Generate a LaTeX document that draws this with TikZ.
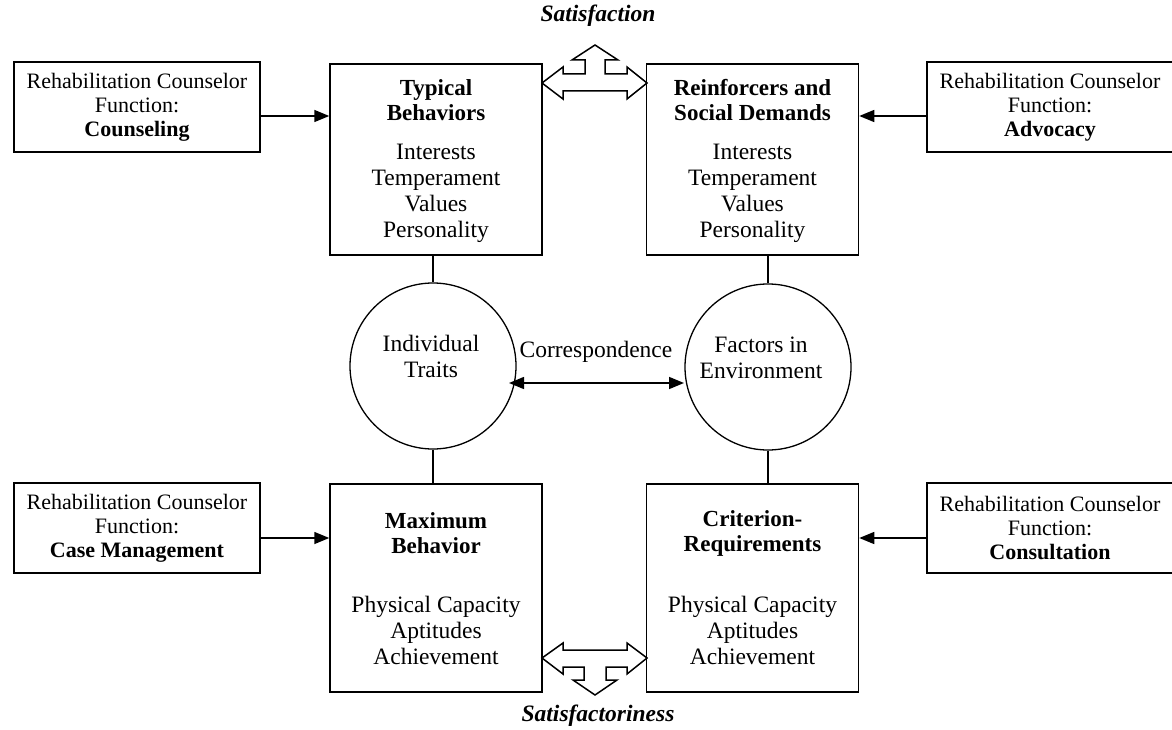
\documentclass[tikz,border=0pt]{standalone}
\usepackage{fontspec}
\setmainfont{Liberation Serif}
\usetikzlibrary{arrows.meta}
\begin{document}
\begin{tikzpicture}[x=1pt,y=-1pt,
  fbox/.style={draw,line width=1.3pt,minimum width=246pt,minimum height=90pt,inner sep=0pt,align=center,font=\fontsize{22}{24}\selectfont},
  mbox/.style={draw,line width=1.5pt,minimum width=212pt,inner sep=0pt},
  ttl/.style={align=center,font=\fontsize{23}{25}\selectfont\bfseries},
  body/.style={align=center,font=\fontsize{23.5}{26}\selectfont},
  circ/.style={draw,circle,line width=1.3pt,minimum size=166pt,inner sep=0pt},
  arr/.style={line width=1.5pt,-{Triangle[length=15pt,width=12pt]}},
  dbl/.style={line width=1.5pt,{Triangle[length=15pt,width=12pt]}-{Triangle[length=15pt,width=12pt]}},
  lnk/.style={line width=1.3pt},
  blk/.style={line width=1.5pt,line join=miter,fill=white},
  lab/.style={font=\fontsize{23.5}{24}\selectfont\bfseries\itshape}
]
\useasboundingbox (0,0) rectangle (1172,730);

% function boxes
\node[fbox] (cf) at (137,107) {Rehabilitation Counselor\\Function:\\\textbf{Counseling}};
\node[fbox] (af) at (1050,107) {Rehabilitation Counselor\\Function:\\\textbf{Advocacy}};
\node[fbox] (mf) at (137,528) {Rehabilitation Counselor\\Function:\\\textbf{Case Management}};
\node[fbox] (sf) at (1050,528) {Rehabilitation Counselor\\Function:\\\textbf{Consultation}};

% main boxes
\node[mbox,minimum height=191pt] (tb) at (436,159.5) {};
\node[mbox,minimum height=191pt] (rs) at (752.5,159.5) {};
\node[mbox,minimum height=208pt] (mb) at (436,588) {};
\node[mbox,minimum height=208pt] (cr) at (752.5,588) {};

\node[ttl] (tbt) at (436,100) {Typical\\Behaviors};
\node[body] (tbb) at (436,193) {Interests\\Temperament\\Values\\Personality};
\node[ttl] (rst) at (752.5,100) {Reinforcers and\\Social Demands};
\node[body] (rsb) at (752.5,193) {Interests\\Temperament\\Values\\Personality};
\node[ttl] (mbt) at (436,533) {Maximum\\Behavior};
\node[body] (mbb) at (436,630) {Physical Capacity\\Aptitudes\\Achievement};
\node[ttl] (crt) at (752.5,533) {Criterion-\\Requirements};
\node[body] (crb) at (752.5,630) {Physical Capacity\\Aptitudes\\Achievement};

% circles
\node[circ] (it) at (433,366) {};
\node[circ] (fe) at (768,367) {};
\node[body] (itt) at (431,356) {Individual\\Traits};
\node[body] (fet) at (761,358) {Factors in\\Environment};

% links
\draw[lnk] (tb.south -| it.north) -- (it.north);
\draw[lnk] (it.south) -- (mb.north -| it.south);
\draw[lnk] (rs.south -| fe.north) -- (fe.north);
\draw[lnk] (fe.south) -- (cr.north -| fe.south);

% correspondence
\coordinate (c1) at (509,383);
\coordinate (c2) at (684,383);
\draw[dbl] (c1) -- (c2);
\node[body] (corr) at (596,352) {Correspondence};

% function arrows
\coordinate (a1) at ([yshift=-9pt]cf.east);
\draw[arr] (a1) -- (a1 -| tb.west);
\coordinate (a2) at ([yshift=-9pt]af.west);
\draw[arr] (a2) -- (a2 -| rs.east);
\coordinate (a3) at ([yshift=-10pt]mf.east);
\draw[arr] (a3) -- (a3 -| mb.west);
\coordinate (a4) at ([yshift=-10pt]sf.west);
\draw[arr] (a4) -- (a4 -| cr.east);

% block arrows
\draw[blk] (542,83) -- (563,67) -- (563,74) -- (585,74) -- (585,60) -- (572,60) -- (595,45) -- (618,60) -- (605,60) -- (605,74) -- (627,74) -- (627,67) -- (647,83) -- (627,99) -- (627,91) -- (563,91) -- (563,99) -- cycle;
\draw[blk] (542,658) -- (563,643) -- (563,650) -- (627,650) -- (627,643) -- (647,658) -- (627,674) -- (627,667) -- (606,667) -- (606,680) -- (617,680) -- (595,695) -- (573,680) -- (584,680) -- (584,667) -- (563,667) -- (563,674) -- cycle;

\node[lab] (sat) at (598,16) {Satisfaction};
\node[lab] (satr) at (598,716) {Satisfactoriness};
\end{tikzpicture}
\end{document}
